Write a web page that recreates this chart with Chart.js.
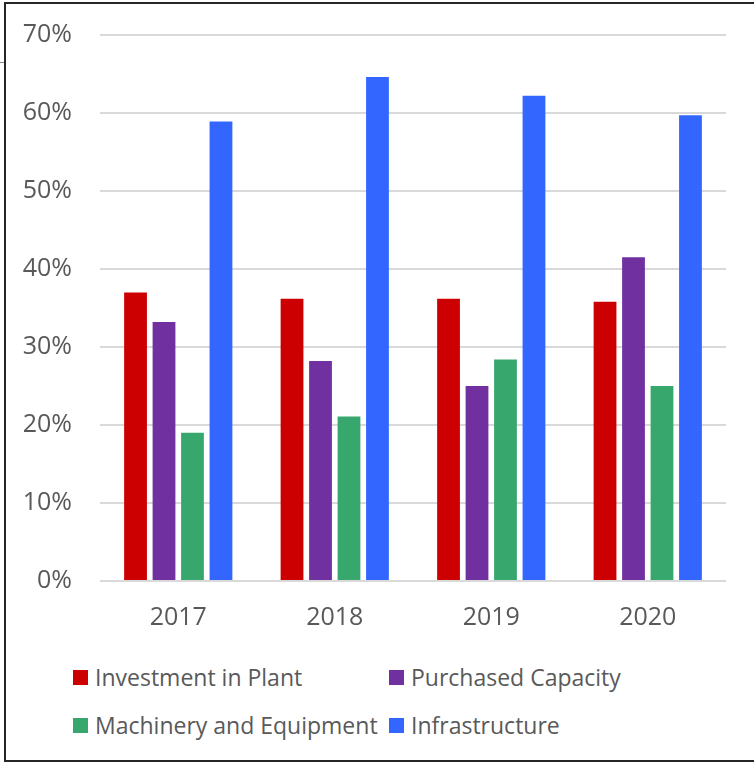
<!DOCTYPE html>
<html>
<head>
<meta charset="utf-8">
<script src="https://cdn.jsdelivr.net/npm/chart.js@4/dist/chart.umd.min.js"></script>
<style>
  html, body { margin: 0; padding: 0; background: #fff; }
  #wrap { position: relative; width: 754px; height: 764px; overflow: hidden; font-family: "Open Sans", sans-serif; }
  #frame { position: absolute; left: 4px; top: 2px; width: 760px; height: 756px;
           border-left: 2px solid #262626; border-top: 2px solid #262626; border-bottom: 2px solid #262626; }
  #stub { position: absolute; left: 0; top: 62px; width: 4px; height: 1px; background: #888; }
  #chart { position: absolute; left: 0; top: -8px; }
  #legend { position: absolute; left: 73px; top: 653px; display: grid;
            grid-template-columns: 316px auto; grid-auto-rows: 48px; }
  .item { display: flex; align-items: center; color: #595959; font-size: 23px; white-space: nowrap; }
  .box { width: 15px; height: 15px; margin-right: 7px; flex: none; }
</style>
</head>
<body>
<div id="wrap">
  <div id="frame"></div>
  <div id="stub"></div>
  <canvas id="chart" width="754" height="658"></canvas>
  <div id="legend"></div>
</div>
<script>
// Share of spending by category, per year (percent)
const years = ['2017', '2018', '2019', '2020'];
const seriesNames = ['Investment in Plant', 'Purchased Capacity', 'Machinery and Equipment', 'Infrastructure'];
const seriesColors = ['#CC0000', '#7030A0', '#38A76E', '#3366FF'];
const investmentInPlant = [37.0, 36.2, 36.2, 35.8];
const purchasedCapacity = [33.2, 28.2, 25.0, 41.5];
const machineryEquipment = [19.0, 21.1, 28.4, 25.0];
const infrastructure = [58.9, 64.6, 62.2, 59.7];
const yTicks = [0, 10, 20, 30, 40, 50, 60, 70];

const values = [investmentInPlant, purchasedCapacity, machineryEquipment, infrastructure];
const textColor = '#595959';

const chart = new Chart(document.getElementById('chart').getContext('2d'), {
  type: 'bar',
  data: {
    labels: years,
    datasets: seriesNames.map((name, i) => ({
      label: name,
      data: values[i],
      backgroundColor: seriesColors[i],
      borderWidth: 0,
      categoryPercentage: 0.728,
      barPercentage: 0.8
    }))
  },
  options: {
    responsive: false,
    animation: false,
    layout: { padding: { top: 26, right: 28, bottom: 0, left: 0 } },
    plugins: { legend: { display: false }, tooltip: { enabled: false } },
    scales: {
      x: {
        grid: { display: false, drawTicks: false },
        border: { display: false },
        ticks: { color: textColor, padding: 22, font: { family: 'Open Sans', size: 25 } },
        afterFit: (s) => { s.height = 69; }
      },
      y: {
        min: 0,
        max: 70,
        afterBuildTicks: (s) => { s.ticks = yTicks.map(v => ({ value: v })); },
        grid: { color: '#d9d9d9', lineWidth: 2, drawTicks: false },
        border: { display: false },
        ticks: { color: textColor, padding: 28, font: { family: 'Open Sans', size: 25 },
                 callback: (v) => v + '%' },
        afterFit: (s) => { s.width = 100; }
      }
    }
  }
});

// Legend laid out as a two-column grid under the plot
const legend = document.getElementById('legend');
chart.data.datasets.forEach((ds) => {
  const item = document.createElement('div');
  item.className = 'item';
  const box = document.createElement('span');
  box.className = 'box';
  box.style.background = ds.backgroundColor;
  item.appendChild(box);
  item.appendChild(document.createTextNode(ds.label));
  legend.appendChild(item);
});
</script>
</body>
</html>
